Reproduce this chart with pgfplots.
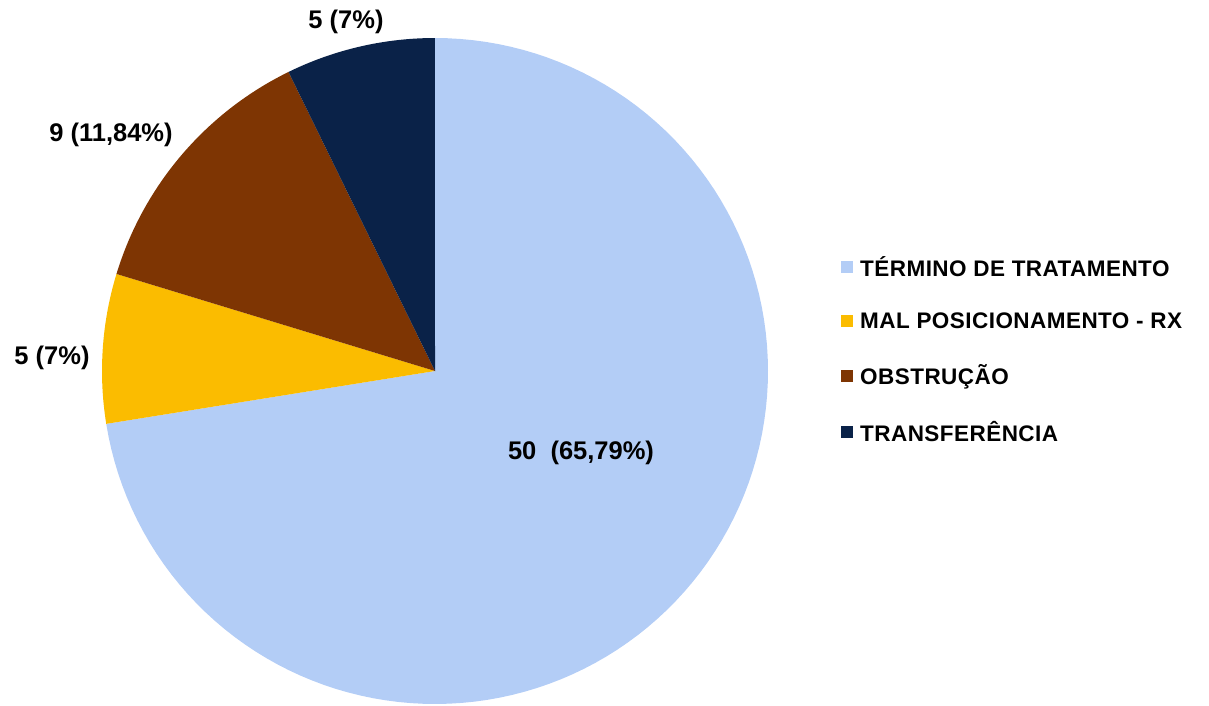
\documentclass[border=0pt]{standalone}
\usepackage{fontspec}
\setmainfont{Liberation Sans}
\usepackage{pgfplots}
\pgfplotsset{compat=1.18}
\definecolor{cA}{HTML}{B3CDF6}
\definecolor{cB}{HTML}{FBBC00}
\definecolor{cC}{HTML}{7E3503}
\definecolor{cD}{HTML}{0A2248}
\begin{document}
\begin{tikzpicture}
% values: 50, 5, 9, 5 (total 69)
\pgfmathsetmacro{\vA}{50}
\pgfmathsetmacro{\vB}{5}
\pgfmathsetmacro{\vC}{9}
\pgfmathsetmacro{\vD}{5}
\pgfmathsetmacro{\tot}{\vA+\vB+\vC+\vD}
\pgfmathsetmacro{\aA}{90}
\pgfmathsetmacro{\aB}{90-360*(\vA/\tot)}
\pgfmathsetmacro{\aC}{\aB-360*(\vB/\tot)}
\pgfmathsetmacro{\aD}{\aC-360*(\vC/\tot)}
\pgfmathsetmacro{\aE}{\aD-360*(\vD/\tot)}
\def\cx{435}\def\cy{334}\def\R{333}
\begin{axis}[
  width=1209pt, height=705pt, scale only axis,
  xmin=0, xmax=1209, ymin=0, ymax=705,
  hide axis, clip=false,
  legend style={at={(axis cs:838,453)}, anchor=north west, draw=none, fill=none,
    font=\fontsize{22.5}{26}\selectfont\bfseries\addfontfeatures{LetterSpace=2}, row sep=31pt,
    /tikz/every even column/.append style={column sep=0pt},
    /tikz/every odd column/.append style={column sep=5pt}},
  legend cell align=left,
  legend image code/.code={\fill[#1] (0pt,-6pt) rectangle (12pt,6pt);},
]
\addplot[fill=cA, draw=none, domain=\aB:\aA, samples=120, variable=\t]
  ({\cx+\R*cos(\t)},{\cy+\R*sin(\t)}) -- (axis cs:\cx,\cy) -- cycle;
\addlegendentry{TÉRMINO DE TRATAMENTO}
\addplot[fill=cB, draw=none, domain=\aC:\aB, samples=30, variable=\t]
  ({\cx+\R*cos(\t)},{\cy+\R*sin(\t)}) -- (axis cs:\cx,\cy) -- cycle;
\addlegendentry{MAL POSICIONAMENTO - RX}
\addplot[fill=cC, draw=none, domain=\aD:\aC, samples=40, variable=\t]
  ({\cx+\R*cos(\t)},{\cy+\R*sin(\t)}) -- (axis cs:\cx,\cy) -- cycle;
\addlegendentry{OBSTRUÇÃO}
\addplot[fill=cD, draw=none, domain=\aE:\aD, samples=30, variable=\t]
  ({\cx+\R*cos(\t)},{\cy+\R*sin(\t)}) -- (axis cs:\cx,\cy) -- cycle;
\addlegendentry{TRANSFERÊNCIA}
\tikzset{lbl/.style={font=\fontsize{25.5}{30}\selectfont\bfseries}}
\node[lbl] at (axis cs:581,252) {50\ \ (65,79\%)};
\node[lbl] at (axis cs:52,347) {5 (7\%)};
\node[lbl] at (axis cs:111,570) {9 (11,84\%)};
\node[lbl] at (axis cs:346,683) {5 (7\%)};
\end{axis}
\pgfresetboundingbox
\useasboundingbox (current axis.south west) rectangle (current axis.north east);
\end{tikzpicture}
\end{document}
